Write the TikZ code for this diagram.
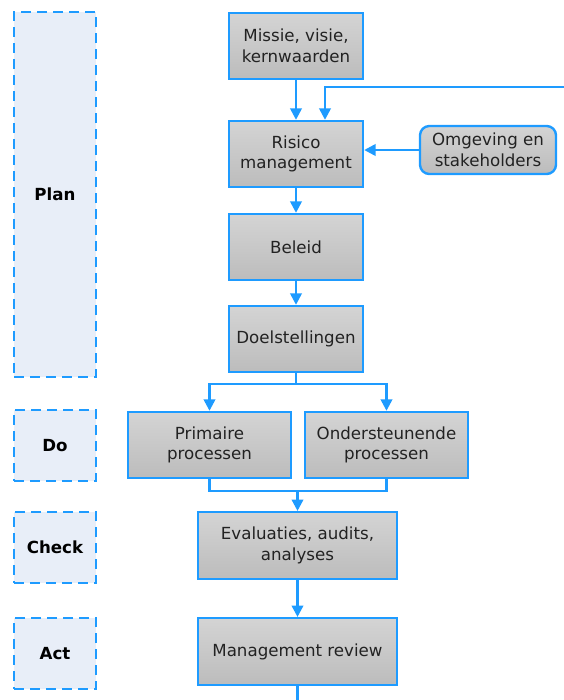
\documentclass[tikz,border=0pt]{standalone}
\usepackage{fontspec}
\setmainfont{DejaVu Sans}
\usepackage{tikz}
\usetikzlibrary{arrows.meta,positioning,calc}
\definecolor{flowblue}{HTML}{1E9BFF}
\definecolor{phasefill}{HTML}{E8EEF8}
\definecolor{boxtop}{HTML}{D4D4D4}
\definecolor{boxbottom}{HTML}{BCBCBC}
\definecolor{boxtext}{HTML}{222222}
\tikzset{
  procbox/.style={draw=flowblue, line width=1.8pt, top color=boxtop, bottom color=boxbottom,
    text=boxtext, align=center, inner sep=2pt, minimum width=100.5pt, minimum height=49.5pt,
    font=\fontsize{12.5}{15.5}\selectfont},
  widebox/.style={procbox, minimum width=149pt, minimum height=50pt},
  sidebox/.style={procbox, rounded corners=7pt, minimum width=102pt, minimum height=36pt},
  phasebox/.style={draw=flowblue, line width=1.8pt, dash pattern=on 7.5pt off 4.5pt, fill=phasefill,
    minimum width=61.5pt, font=\bfseries\fontsize{12.5}{15}\selectfont},
  flow/.style={flowblue, line width=1.8pt, -{Triangle[width=8.5pt,length=8.5pt]}},
  plain/.style={flowblue, line width=1.8pt}
}
\begin{document}
\begin{tikzpicture}[x=0.75pt,y=-0.75pt]
  \useasboundingbox (0,0) rectangle (564,700);
  \node[phasebox, minimum height=273.75pt] (plan) at (55,194.5) {Plan};
  \node[phasebox, minimum height=53.25pt] (do) at (55,445.5) {Do};
  \node[phasebox, minimum height=53.25pt] (check) at (55,547.5) {Check};
  \node[phasebox, minimum height=53.25pt] (act) at (55,653.5) {Act};

  \node[procbox] (missie) at (296,46) {Missie, visie,\\kernwaarden};
  \node[procbox] (risico) at (296,154) {Risico\\management};
  \node[sidebox] (omgeving) at (488,150) {Omgeving en\\stakeholders};
  \node[procbox] (beleid) at (296,247) {Beleid};
  \node[procbox] (doel) at (296,339) {Doelstellingen};
  \node[procbox, minimum width=122pt] (prim) at (209.5,445) {Primaire\\processen};
  \node[procbox, minimum width=122pt] (onder) at (386.5,445) {Ondersteunende\\processen};
  \node[widebox] (eval) at (297.5,545.5) {Evaluaties, audits,\\analyses};
  \node[widebox] (review) at (297.5,651.5) {Management review};

  \coordinate (feedback) at (566,87);
  \coordinate (split) at (296,384);
  \coordinate (merge) at (297.5,491);
  \coordinate (exit) at (297.5,702);

  \draw[flow] (missie) -- (risico);
  \draw[flow] (feedback) -| ([xshift=21.75pt]risico.north);
  \draw[flow] (omgeving.west) -- (omgeving.west -| risico.east);
  \draw[flow] (risico) -- (beleid);
  \draw[flow] (beleid) -- (doel);
  \draw[plain] (doel) -- (split);
  \draw[flow] (split) -| (prim);
  \draw[flow] (split) -| (onder);
  \draw[plain] (prim) |- (merge) -| (onder);
  \draw[flow] (merge) -- (eval);
  \draw[flow] (eval) -- (review);
  \draw[plain] (review) -- (exit);
\end{tikzpicture}
\end{document}
